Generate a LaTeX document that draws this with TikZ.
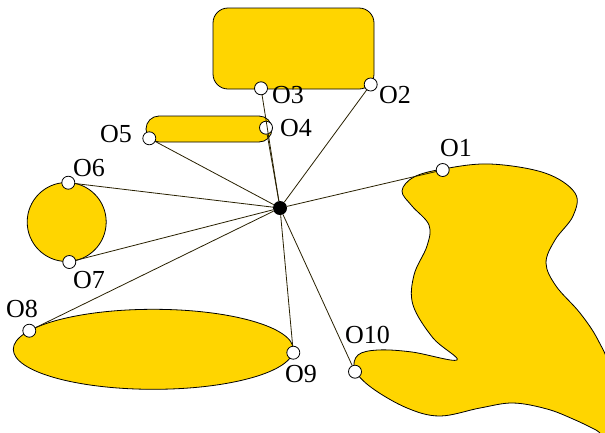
\documentclass[tikz,border=0pt]{standalone}
\usepackage{fontspec}
\setmainfont{Liberation Serif}
\begin{document}
\begin{tikzpicture}[x=1pt,y=-1pt,
  shapefill/.style={draw=black,line width=0.8pt,fill={rgb,255:red,255;green,213;blue,0}},
  port/.style={circle,draw=black,line width=0.8pt,fill=white,inner sep=0pt,minimum size=13pt},
  hubdot/.style={circle,fill=black,inner sep=0pt,minimum size=14pt},
  wire/.style={draw={rgb,255:red,40;green,32;blue,0},line width=0.8pt},
  tag/.style={anchor=base west,inner sep=0pt,font=\fontsize{26}{29}\selectfont}]
\useasboundingbox (0,0) rectangle (605,432);

% shapes
\draw[shapefill,rounded corners=15pt] (213,8) rectangle (374,89);
\draw[shapefill,rounded corners=13pt] (146,116) rectangle (272,142);
\draw[shapefill] (66.7,222) circle[radius=39.5pt];
\draw[shapefill] (153.3,349.3) ellipse[x radius=140pt,y radius=40pt];
\draw[shapefill] plot[smooth cycle,tension=0.6] coordinates {
  (443,169) (490,164) (545,173) (575,193) (573,216) (555,240) (546,263)
  (556,286) (580,313) (598,340) (610,372) (614,440) (596,430) (573,419)
  (547,409) (513,403) (480,408) (440,416) (407,408) (372,388) (355,370)
  (358,355) (378,350) (412,352) (457,360) (433,338) (413,305) (414,275)
  (427,246) (429,225) (412,206) (402,191) (414,177)};

% hub and ports
\node[hubdot] (hub) at (280,208) {};
\node[port] (p1) at (442.7,170) {};
\node[port] (p2) at (370.7,84.5) {};
\node[port] (p3) at (261,88.3) {};
\node[port] (p4) at (266,127.7) {};
\node[port] (p5) at (149.3,138.3) {};
\node[port] (p6) at (68.3,182.7) {};
\node[port] (p7) at (69.3,262) {};
\node[port] (p8) at (29.3,330.7) {};
\node[port] (p9) at (293.3,352.7) {};
\node[port] (p10) at (355,371.7) {};

% wires from the hub
\foreach \p in {p1,p2,p3,p4,p5,p6,p7,p8,p9,p10}
  \draw[wire] (hub) -- (\p);

% labels
\node[tag] (t1) at (440,156) {O1};
\node[tag] (t2) at (379,103) {O2};
\node[tag] (t3) at (272,103) {O3};
\node[tag] (t4) at (280,136) {O4};
\node[tag] (t5) at (100,142) {O5};
\node[tag] (t6) at (73,176) {O6};
\node[tag] (t7) at (73,288) {O7};
\node[tag] (t8) at (6,317) {O8};
\node[tag] (t9) at (285,382) {O9};
\node[tag] (t10) at (345,343) {O10};
\end{tikzpicture}
\end{document}
